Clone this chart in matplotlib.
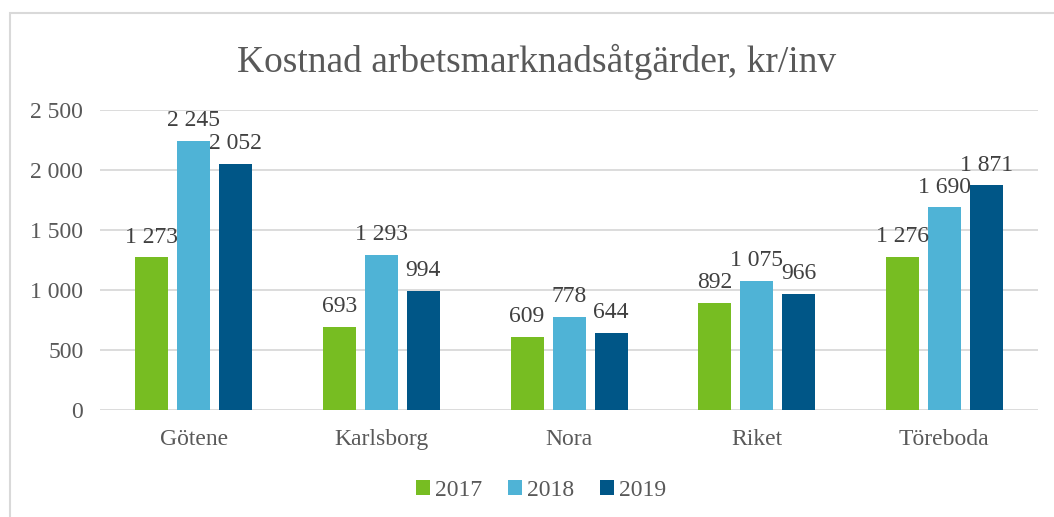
import matplotlib.pyplot as plt
import numpy as np
from matplotlib.patches import Rectangle

categories = ['Götene', 'Karlsborg', 'Nora', 'Riket', 'Töreboda']
years = ['2017', '2018', '2019']
v2017 = [1273, 693, 609, 892, 1276]
v2018 = [2245, 1293, 778, 1075, 1690]
v2019 = [2052, 994, 644, 966, 1871]
colors = ['#77BD22', '#4FB3D6', '#005687']

plt.rcParams['font.family'] = ['Liberation Serif', 'DejaVu Serif']
txt = '#595959'


def fmt(v):
    return f'{v:,}'.replace(',', ' ')


fig = plt.figure(figsize=(10.54, 5.17), dpi=100)
ax = fig.add_axes([100 / 1054, 1 - 410 / 517, 938 / 1054, 300 / 517])

# chart frame
fig.patches.append(Rectangle((10 / 1054, -0.1), 1.2, 1 - 13 / 517 + 0.1,
                             transform=fig.transFigure, fill=False,
                             edgecolor='#D9D9D9', linewidth=1.5))

x = np.arange(len(categories))
width = 33 / 187.6
step = 42 / 187.6
series = [v2017, v2018, v2019]
for i, (vals, c, yr) in enumerate(zip(series, colors, years)):
    bars = ax.bar(x + (i - 1) * step, vals, width, color=c, label=yr, zorder=3)
    for b, v in zip(bars, vals):
        ax.text(b.get_x() + b.get_width() / 2, v + 80, fmt(v),
                ha='center', va='bottom', fontsize=17, color='#404040', zorder=4)

ax.set_xlim(-0.5, len(categories) - 0.5)
ax.set_ylim(0, 2500)
ax.set_yticks(range(0, 2501, 500))
ax.set_yticklabels([fmt(v) for v in range(0, 2501, 500)])
ax.set_xticks(x)
ax.set_xticklabels(categories)
ax.tick_params(axis='both', length=0, labelsize=17, labelcolor=txt)
ax.tick_params(axis='y', pad=12)
ax.tick_params(axis='x', pad=14)
ax.grid(axis='y', color='#D9D9D9', linewidth=1.3, zorder=0)
for s in ax.spines.values():
    s.set_visible(False)

fig.text(537 / 1054, 1 - 62 / 517, 'Kostnad arbetsmarknadsåtgärder, kr/inv',
         fontsize=27, color=txt, ha='center', va='center')

fig.legend(*ax.get_legend_handles_labels(), loc='center',
           bbox_to_anchor=(541 / 1054, 1 - 490 / 517), ncol=3, frameon=False,
           fontsize=17, labelcolor=txt, handlelength=0.6, handleheight=0.6,
           handletextpad=0.2, columnspacing=1.1)

plt.savefig('out.png', dpi=100)
